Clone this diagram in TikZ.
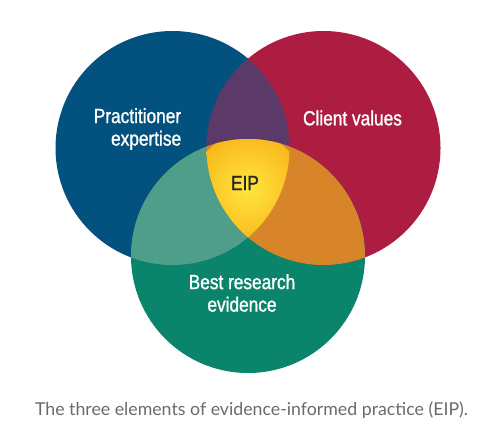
\documentclass[tikz,border=0pt]{standalone}
\usepackage{fontspec}
\usepackage{xcolor}
\usepackage{tikz}
\usetikzlibrary{positioning}
\newfontfamily\lblfont[FakeStretch=0.84,FakeBold=1.2]{Liberation Sans}
\newfontfamily\capfont{Lato}
\definecolor{vBlue}{HTML}{03517F}
\definecolor{vRed}{HTML}{AD1D42}
\definecolor{vGreen}{HTML}{0A846A}
\definecolor{vPurple}{HTML}{5B3A6A}
\definecolor{vTeal}{HTML}{4E9E8A}
\definecolor{vOrange}{HTML}{D8852A}
\definecolor{vYellowIn}{HTML}{FFE63E}
\definecolor{vYellowOut}{HTML}{F9B81C}
\definecolor{capGray}{HTML}{6A6A6A}
\tikzset{
  setlbl/.style={font=\lblfont\fontsize{11.7}{12.8}\selectfont, text=white, inner sep=0pt},
  setcap/.style={font=\capfont\fontsize{10.1}{12}\selectfont, text=capGray, inner sep=0pt}
}

\begin{document}
\begin{tikzpicture}
      \useasboundingbox (0,0) rectangle (10,8.88);
      % circle centres
      \coordinate (pc) at (3.45,5.92);
      \coordinate (cc) at (6.47,5.92);
      \coordinate (bc) at (4.96,3.76);
      \def\rr{2.34}
      \fill[vBlue] (pc) circle (\rr);
      \fill[vRed] (cc) circle (\rr);
      \fill[vGreen] (bc) circle (\rr);
      % pairwise overlaps
      \begin{scope}
        \clip (pc) circle (\rr);
        \fill[vPurple] (cc) circle (\rr);
        \fill[vTeal] (bc) circle (\rr);
      \end{scope}
      \begin{scope}
        \clip (cc) circle (\rr);
        \fill[vOrange] (bc) circle (\rr);
      \end{scope}
      % centre
      \begin{scope}
        \clip (pc) circle (\rr);
        \clip (cc) circle (\rr);
        \clip (bc) circle (\rr);
        \shade[inner color=vYellowIn, outer color=vYellowOut] (4.96,5.12) circle (1.1);
      \end{scope}
      \node[setlbl, align=right, anchor=east] (prac) at (3.63,6.30) {Practitioner\\expertise};
      \node[setlbl] (client) at (7.05,6.52) {Client values};
      \node[setlbl, text=black!85] (eip) at (4.90,5.22) {EIP};
      \node[setlbl, align=center] (best) at (4.84,3.02) {Best research\\evidence};
      \node[setcap] (cap) at (5.03,0.68) {The three elements of evidence-informed practice (EIP).};
\end{tikzpicture}
\end{document}
